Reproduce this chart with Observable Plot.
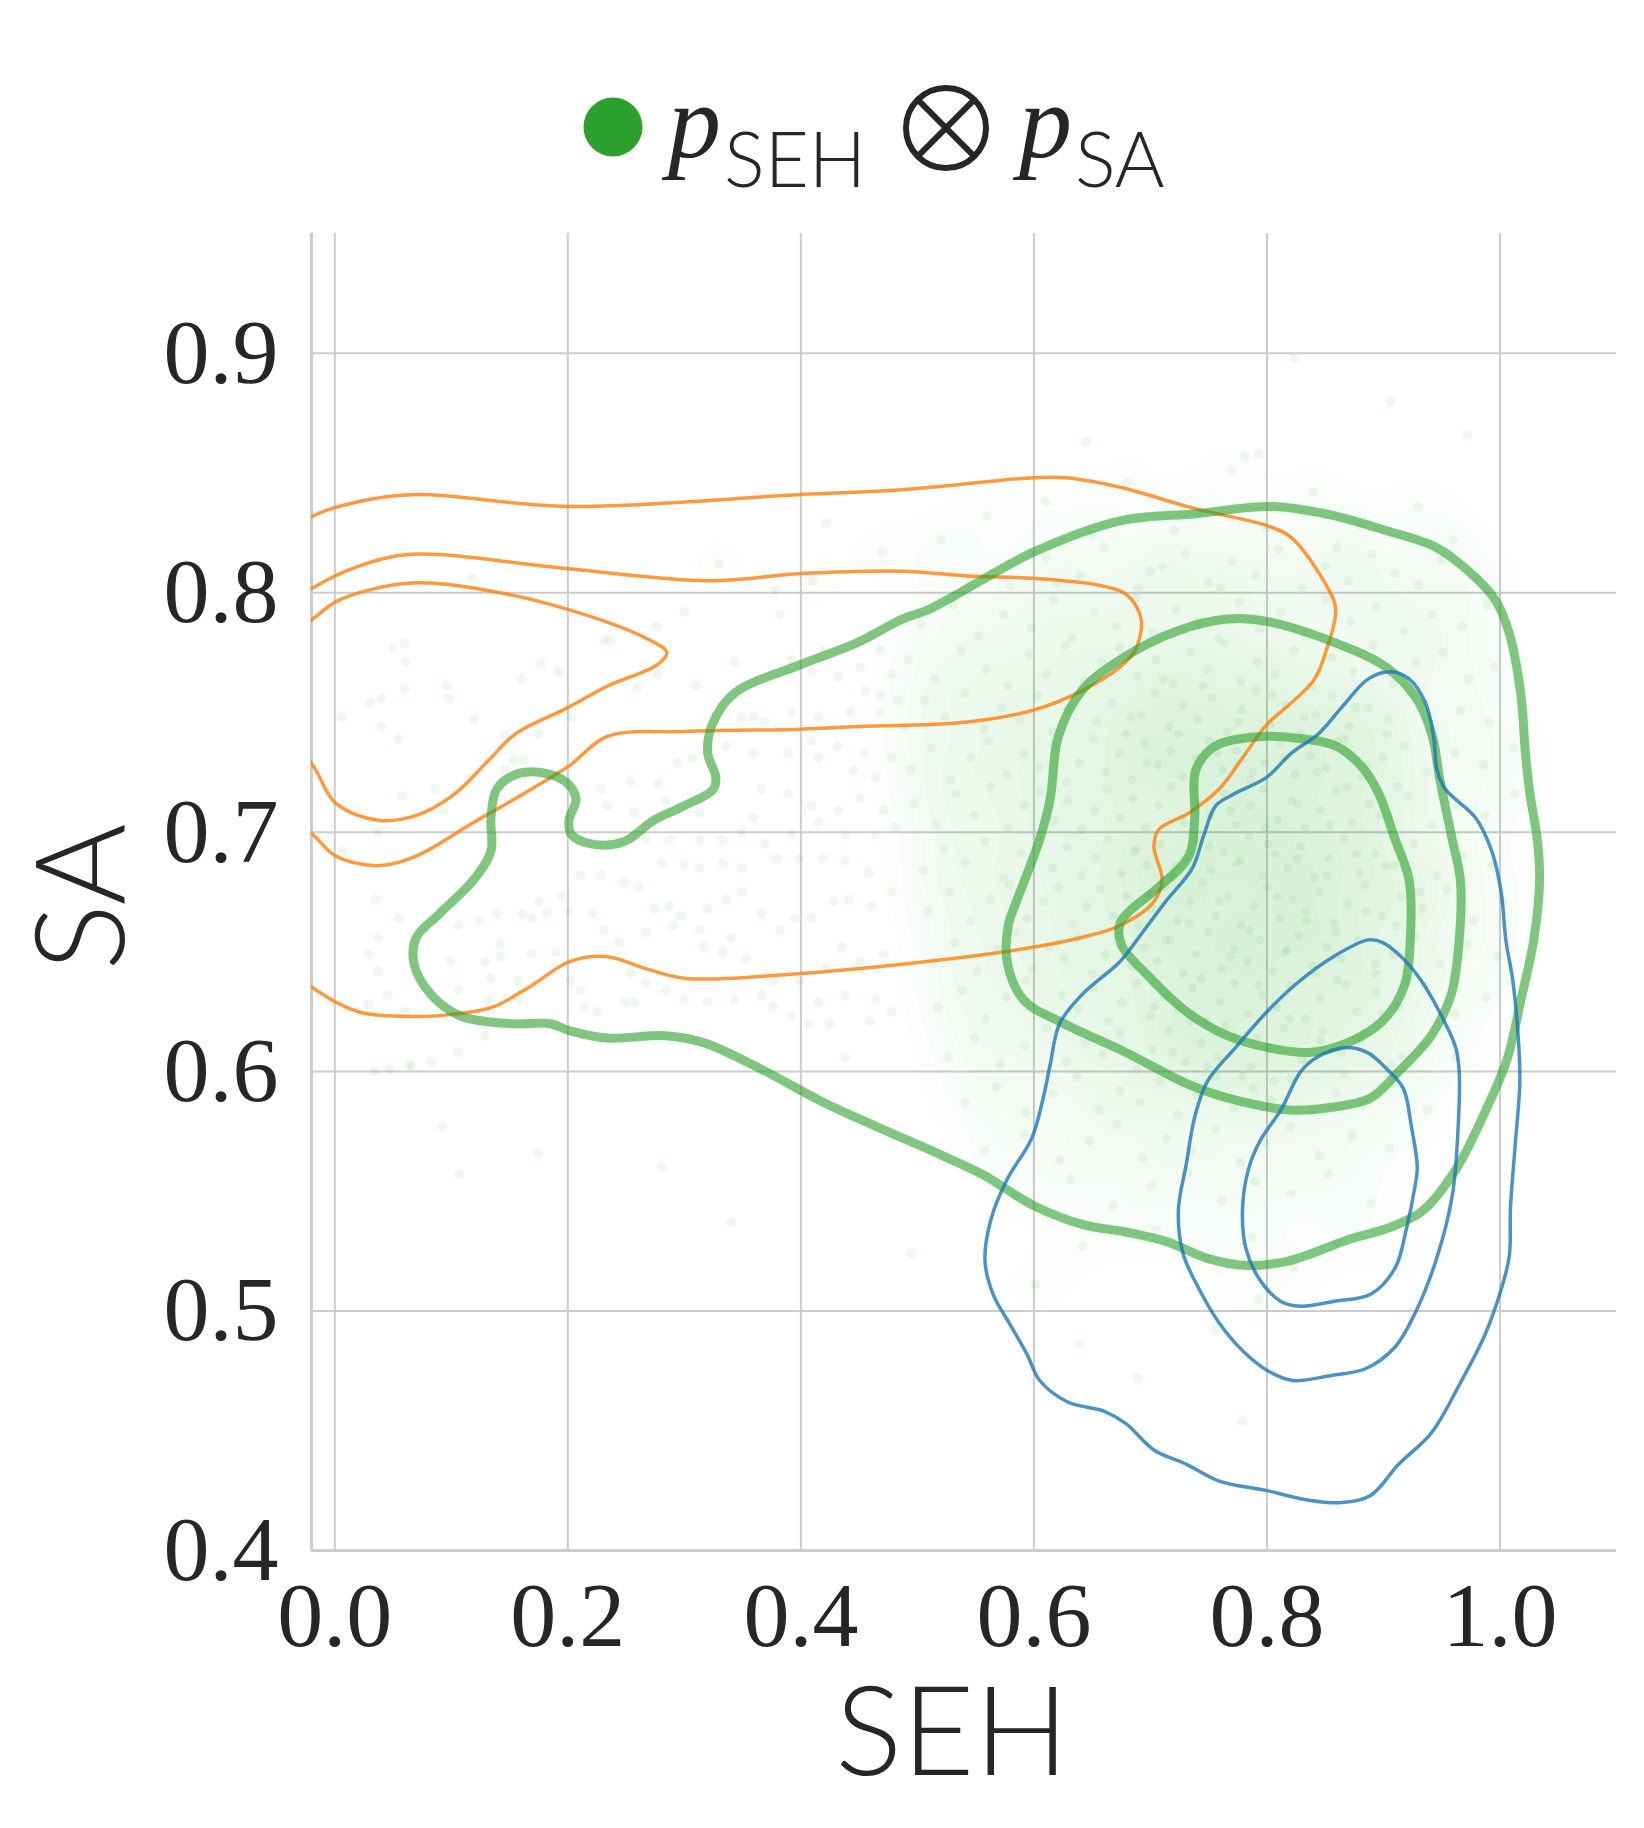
<!DOCTYPE html>
<html>
<head>
<meta charset="utf-8">
<script src="https://cdn.jsdelivr.net/npm/d3@7"></script>
<script src="https://cdn.jsdelivr.net/npm/@observablehq/plot@0.6"></script>
<style>
  html, body { margin: 0; padding: 0; background: #ffffff; }
  #wrap { position: relative; width: 1644px; height: 1828px; }
  #legend { position: absolute; left: 0; top: 0; }
</style>
</head>
<body>
<div id="wrap"></div>
<script>
// ---------- axis ticks ----------
const xTicks = [0.0, 0.2, 0.4, 0.6, 0.8, 1.0];
const yTicks = [0.4, 0.5, 0.6, 0.7, 0.8, 0.9];
const xDomain = [-0.02, 1.10];
const yDomain = [0.40, 0.95];
const xLabel = "SEH";
const yLabel = "SA";
const legendNames = ["SEH", "SA"];

// ---------- scatter samples (SEH, SA) ----------
const samplesSparse = [
  [0.824,0.898],[0.906,0.880],[0.645,0.863],[0.781,0.857],[0.793,0.858],[0.972,0.866],
  [0.422,0.829],[0.118,0.806],[0.378,0.801],[0.382,0.791],[0.300,0.792],[0.276,0.786],
  [0.231,0.780],[0.236,0.780],[0.050,0.777],[0.060,0.779],[0.061,0.771],[0.096,0.761],
  [0.098,0.756],[0.060,0.760],[0.030,0.754],[0.040,0.756],[0.006,0.748],[0.040,0.744],
  [0.055,0.739],[0.119,0.747],[0.160,0.764],[0.177,0.770],[0.192,0.767],[0.343,0.771],
  [0.310,0.761],[0.259,0.760],[0.276,0.766],[0.203,0.748],[0.175,0.741],[0.146,0.741],
  [0.154,0.730],[0.162,0.730],[0.146,0.726],[0.086,0.718],[0.058,0.715],[0.093,0.709],
  [0.037,0.700],[0.007,0.692],[0.035,0.672],[0.055,0.664],[0.037,0.656],[0.029,0.649],
  [0.037,0.642],[0.045,0.632],[0.029,0.628],[0.060,0.625],[0.066,0.602],[0.047,0.601],
  [0.083,0.604],[0.106,0.608],[0.129,0.615],[0.099,0.646],[0.106,0.634],[0.129,0.646],
  [0.142,0.648],[0.134,0.639],[0.157,0.638],[0.158,0.630],[0.132,0.630],[0.142,0.653],
  [0.169,0.649],[0.190,0.650],[0.202,0.638],[0.214,0.627],[0.225,0.625],[0.211,0.634],
  [0.249,0.629],[0.257,0.629],[0.267,0.637],[0.254,0.641],[0.284,0.634],[0.300,0.630],
  [0.320,0.629],[0.343,0.630],[0.366,0.632],[0.376,0.627],[0.392,0.623],[0.407,0.620],
  [0.425,0.620],[0.438,0.606],[0.459,0.621],[0.415,0.629],[0.438,0.632],[0.464,0.630],
  [0.478,0.625],[0.451,0.646],[0.471,0.649],[0.435,0.652],[0.422,0.643],[0.399,0.638],
  [0.376,0.638],[0.353,0.647],[0.333,0.650],[0.317,0.652],[0.340,0.656],[0.313,0.659],
  [0.290,0.661],[0.267,0.658],[0.244,0.654],[0.231,0.659],[0.221,0.666],[0.201,0.667],
  [0.182,0.667],[0.169,0.664],[0.161,0.666],[0.139,0.666],[0.124,0.663],[0.106,0.661],
  [0.175,0.671],[0.195,0.673],[0.211,0.682],[0.228,0.682],[0.248,0.679],[0.261,0.677],
  [0.274,0.668],[0.287,0.669],[0.297,0.665],[0.320,0.668],[0.336,0.672],[0.349,0.675],
  [0.366,0.666],[0.382,0.659],[0.395,0.664],[0.409,0.664],[0.428,0.671],[0.441,0.672],
  [0.461,0.669],[0.478,0.675],[0.458,0.683],[0.438,0.688],[0.419,0.689],[0.399,0.689],
  [0.379,0.689],[0.349,0.685],[0.333,0.687],[0.313,0.685],[0.300,0.687],[0.281,0.687],
  [0.267,0.697],[0.287,0.697],[0.313,0.697],[0.333,0.697],[0.349,0.700],[0.369,0.695],
  [0.392,0.699],[0.415,0.704],[0.438,0.699],[0.464,0.699],[0.481,0.702],[0.471,0.709],
  [0.451,0.714],[0.432,0.709],[0.409,0.711],[0.389,0.716],[0.366,0.718],[0.359,0.706],
  [0.313,0.708],[0.284,0.713],[0.254,0.721],[0.228,0.718],[0.234,0.711],[0.257,0.708],
  [0.277,0.720],[0.294,0.729],[0.307,0.731],[0.336,0.736],[0.359,0.733],[0.389,0.733],
  [0.415,0.731],[0.445,0.726],[0.464,0.723],[0.478,0.731],[0.455,0.733],[0.432,0.736],
  [0.409,0.738],[0.382,0.742],[0.359,0.748],[0.349,0.748],[0.369,0.746],[0.392,0.750],
  [0.415,0.748],[0.442,0.750],[0.468,0.750],[0.484,0.755],[0.455,0.759],[0.432,0.765],
  [0.409,0.767],[0.392,0.772],[0.419,0.776],[0.451,0.769],[0.468,0.776],[0.478,0.766],
  [0.468,0.757],
  [0.639,0.486],[0.779,0.454],[0.495,0.524],[0.340,0.537],[0.281,0.560],[0.174,0.566],
  [0.107,0.557],[0.092,0.577],[0.034,0.600],[0.064,0.603],[0.756,0.492],[0.689,0.472]
];

const samplesCore = [
  [0.520,0.822],[0.610,0.838],[0.680,0.846],[0.720,0.826],[0.770,0.851],[0.840,0.842],
  [0.880,0.828],[0.930,0.836],[0.740,0.834],[0.650,0.824],[0.960,0.822],[0.800,0.827],[0.560,0.832],
  [0.530,0.808],[0.580,0.803],[0.610,0.815],
  [0.640,0.807],[0.660,0.819],[0.690,0.802],[0.710,0.811],[0.730,0.816],[0.750,0.804],
  [0.770,0.813],[0.790,0.807],[0.810,0.818],[0.830,0.802],[0.850,0.811],[0.870,0.805],
  [0.890,0.816],[0.910,0.808],[0.930,0.803],[0.950,0.814],[0.980,0.806],[0.700,0.809],
  [0.620,0.804],[0.760,0.802],[0.860,0.819],
  [0.503,0.787],[0.531,0.795],[0.552,0.782],[0.574,0.791],[0.598,0.785],[0.617,0.797],
  [0.633,0.781],[0.652,0.792],[0.671,0.786],[0.688,0.798],[0.703,0.783],[0.722,0.793],
  [0.741,0.788],[0.758,0.781],[0.776,0.796],[0.794,0.785],[0.812,0.792],[0.833,0.782],
  [0.851,0.797],[0.872,0.788],[0.894,0.794],[0.918,0.784],[0.942,0.791],[0.967,0.786],[0.989,0.795],
  [0.492,0.772],[0.515,0.764],[0.538,0.776],[0.559,0.768],[0.578,0.761],[0.596,0.774],
  [0.611,0.766],[0.627,0.778],[0.643,0.763],[0.658,0.771],[0.674,0.777],[0.689,0.765],
  [0.705,0.772],[0.719,0.762],[0.734,0.775],[0.749,0.768],[0.763,0.779],[0.778,0.763],
  [0.792,0.771],[0.807,0.766],[0.823,0.776],[0.839,0.761],[0.856,0.773],[0.874,0.767],
  [0.891,0.778],[0.909,0.762],[0.928,0.771],[0.951,0.775],[0.973,0.764],[0.996,0.769],
  [0.489,0.744],[0.506,0.755],[0.524,0.748],[0.541,0.758],[0.557,0.743],[0.572,0.752],
  [0.588,0.747],[0.603,0.757],[0.616,0.742],[0.629,0.751],[0.641,0.759],[0.654,0.746],
  [0.667,0.754],[0.679,0.741],[0.692,0.749],[0.704,0.758],[0.716,0.744],[0.728,0.753],
  [0.741,0.747],[0.753,0.756],[0.766,0.742],[0.778,0.751],[0.791,0.759],[0.803,0.745],
  [0.816,0.753],[0.829,0.741],[0.842,0.749],[0.856,0.757],[0.871,0.744],[0.887,0.752],
  [0.904,0.747],[0.922,0.758],[0.943,0.743],[0.966,0.751],[0.991,0.746],
  [0.494,0.726],[0.512,0.735],[0.529,0.722],[0.546,0.731],[0.561,0.738],[0.577,0.724],
  [0.591,0.733],[0.604,0.727],[0.617,0.736],[0.628,0.721],[0.639,0.729],[0.651,0.739],
  [0.662,0.725],[0.673,0.733],[0.684,0.722],[0.695,0.737],[0.706,0.728],[0.717,0.734],
  [0.728,0.723],[0.739,0.731],[0.751,0.738],[0.762,0.726],[0.774,0.734],[0.786,0.722],
  [0.798,0.729],[0.811,0.737],[0.824,0.724],[0.837,0.732],[0.851,0.727],[0.866,0.739],
  [0.882,0.723],[0.899,0.731],[0.918,0.736],[0.938,0.725],[0.961,0.733],[0.986,0.728],[1.012,0.735],
  [0.497,0.712],[0.516,0.703],[0.533,0.716],[0.549,0.707],[0.563,0.719],[0.578,0.702],
  [0.592,0.711],[0.605,0.717],[0.617,0.705],[0.629,0.713],[0.641,0.701],[0.652,0.709],
  [0.663,0.718],[0.674,0.706],[0.685,0.714],[0.696,0.702],[0.707,0.711],[0.718,0.719],
  [0.729,0.704],[0.741,0.712],[0.752,0.707],[0.763,0.716],[0.774,0.703],[0.786,0.711],
  [0.797,0.718],[0.809,0.705],[0.821,0.713],[0.833,0.702],[0.846,0.709],[0.859,0.717],
  [0.873,0.704],[0.888,0.712],[0.904,0.706],[0.921,0.715],[0.941,0.703],[0.963,0.711],
  [0.987,0.707],[1.013,0.716],
  [0.505,0.684],[0.523,0.693],[0.541,0.687],[0.558,0.696],[0.574,0.681],[0.589,0.691],
  [0.603,0.698],[0.616,0.685],[0.628,0.694],[0.641,0.682],[0.653,0.689],[0.664,0.697],
  [0.675,0.683],[0.686,0.692],[0.697,0.686],[0.708,0.695],[0.719,0.681],[0.730,0.689],
  [0.741,0.697],[0.752,0.684],[0.763,0.692],[0.774,0.687],[0.785,0.698],[0.796,0.682],
  [0.807,0.691],[0.818,0.685],[0.829,0.694],[0.841,0.681],[0.853,0.689],[0.866,0.697],
  [0.879,0.683],[0.893,0.691],[0.909,0.686],[0.926,0.695],[0.946,0.682],[0.968,0.690],[0.994,0.686],
  [0.509,0.667],[0.528,0.675],[0.546,0.663],[0.563,0.672],[0.579,0.678],[0.594,0.664],
  [0.608,0.671],[0.621,0.677],[0.633,0.662],[0.645,0.669],[0.657,0.676],[0.668,0.665],
  [0.679,0.673],[0.690,0.661],[0.701,0.668],[0.712,0.677],[0.723,0.663],[0.734,0.671],
  [0.745,0.679],[0.756,0.665],[0.767,0.673],[0.778,0.661],[0.789,0.669],[0.800,0.677],
  [0.811,0.664],[0.822,0.672],[0.833,0.667],[0.845,0.675],[0.857,0.662],[0.870,0.670],
  [0.884,0.678],[0.899,0.665],[0.915,0.673],[0.933,0.668],[0.954,0.676],[0.977,0.663],[1.003,0.671],
  [0.513,0.645],[0.532,0.654],[0.551,0.642],[0.568,0.651],[0.584,0.658],[0.599,0.643],
  [0.613,0.652],[0.626,0.647],[0.638,0.656],[0.650,0.641],[0.662,0.649],[0.673,0.657],
  [0.684,0.644],[0.695,0.652],[0.706,0.646],[0.717,0.655],[0.728,0.641],[0.739,0.649],
  [0.750,0.658],[0.761,0.643],[0.772,0.651],[0.783,0.646],[0.794,0.655],[0.805,0.642],
  [0.816,0.650],[0.827,0.657],[0.839,0.644],[0.851,0.652],[0.864,0.647],[0.878,0.655],
  [0.893,0.641],[0.909,0.649],[0.927,0.656],[0.948,0.645],[0.972,0.653],[0.998,0.648],
  [0.518,0.627],[0.539,0.634],[0.558,0.622],[0.576,0.631],[0.593,0.638],[0.609,0.624],
  [0.624,0.632],[0.638,0.626],[0.651,0.635],[0.664,0.621],[0.676,0.629],[0.688,0.637],
  [0.700,0.623],[0.712,0.631],[0.724,0.626],[0.736,0.635],[0.748,0.621],[0.760,0.629],
  [0.772,0.637],[0.784,0.624],[0.796,0.632],[0.808,0.627],[0.820,0.636],[0.833,0.622],
  [0.846,0.630],[0.861,0.638],[0.877,0.625],[0.894,0.633],[0.913,0.627],[0.935,0.636],
  [0.961,0.624],[0.988,0.631],
  [0.526,0.606],[0.549,0.614],[0.571,0.603],[0.592,0.611],[0.611,0.618],[0.628,0.604],
  [0.644,0.612],[0.659,0.607],[0.674,0.616],[0.688,0.601],[0.702,0.609],[0.716,0.617],
  [0.730,0.604],[0.744,0.612],[0.758,0.606],[0.772,0.615],[0.786,0.602],[0.800,0.610],
  [0.815,0.618],[0.830,0.605],[0.846,0.613],[0.864,0.608],[0.884,0.616],[0.907,0.603],
  [0.933,0.611],[0.962,0.606],
  [0.541,0.587],[0.568,0.594],[0.593,0.583],[0.616,0.591],[0.637,0.598],[0.656,0.584],
  [0.674,0.592],[0.691,0.587],[0.708,0.596],[0.724,0.582],[0.740,0.590],[0.756,0.598],
  [0.772,0.585],[0.788,0.593],[0.804,0.588],[0.821,0.597],[0.839,0.583],[0.859,0.591],
  [0.882,0.586],[0.908,0.595],[0.938,0.584],
  [0.558,0.567],[0.592,0.574],[0.622,0.563],[0.648,0.571],[0.671,0.578],[0.693,0.564],
  [0.714,0.572],[0.735,0.567],[0.756,0.576],[0.777,0.562],[0.798,0.570],[0.820,0.577],
  [0.845,0.565],[0.873,0.573],[0.905,0.568],
  [0.584,0.548],[0.631,0.555],[0.668,0.544],[0.701,0.552],[0.732,0.558],[0.761,0.546],
  [0.790,0.554],[0.821,0.549],[0.853,0.557],[0.889,0.545],
  [0.642,0.527],[0.705,0.534],[0.748,0.522],[0.787,0.531],[0.823,0.518],[0.861,0.529],
  [0.917,0.524],[0.601,0.511],[0.793,0.505]
];

const samplesPeak = [
  [0.683,0.748],[0.697,0.729],[0.711,0.764],[0.724,0.741],[0.737,0.718],[0.745,0.761],
  [0.758,0.733],[0.769,0.709],[0.776,0.746],[0.788,0.725],[0.799,0.702],[0.804,0.757],
  [0.815,0.731],[0.826,0.712],[0.832,0.748],[0.843,0.725],[0.854,0.703],[0.861,0.738],
  [0.869,0.719],[0.876,0.752],[0.886,0.728],[0.897,0.707],[0.903,0.741],[0.912,0.719],
  [0.688,0.693],[0.699,0.674],[0.713,0.655],[0.722,0.686],[0.733,0.662],[0.744,0.639],
  [0.751,0.694],[0.759,0.671],[0.768,0.648],[0.777,0.688],[0.785,0.659],[0.793,0.636],
  [0.801,0.695],[0.809,0.673],[0.817,0.651],[0.826,0.689],[0.834,0.663],[0.842,0.641],
  [0.851,0.682],[0.859,0.658],[0.868,0.636],[0.877,0.691],[0.885,0.667],[0.893,0.645],
  [0.902,0.686],[0.911,0.661],[0.921,0.639],[0.931,0.675],
  [0.703,0.627],[0.719,0.608],[0.734,0.621],[0.749,0.602],[0.764,0.619],[0.779,0.598],
  [0.791,0.614],[0.806,0.596],[0.819,0.622],[0.834,0.604],[0.848,0.617],[0.866,0.599],
  [0.881,0.613],[0.899,0.624],[0.916,0.606],
  [0.330,0.812],[0.410,0.805],[0.470,0.817]
];

// ---------- density contours of p_SEH (green) ----------
const sehOuter = [
  [0.068,0.645],[0.070,0.656],[0.090,0.666],[0.119,0.680],[0.134,0.692],[0.134,0.706],
  [0.139,0.718],[0.155,0.724],[0.175,0.725],[0.198,0.721],[0.207,0.714],[0.201,0.705],
  [0.203,0.699],[0.221,0.695],[0.248,0.696],[0.274,0.705],[0.300,0.711],[0.325,0.718],
  [0.327,0.723],[0.320,0.733],[0.324,0.745],[0.343,0.758],[0.400,0.770],[0.448,0.779],
  [0.487,0.789],[0.510,0.793],[0.600,0.817],[0.674,0.830],[0.739,0.833],[0.805,0.836],
  [0.859,0.832],[0.902,0.826],[0.945,0.819],[0.973,0.809],[0.996,0.797],[1.008,0.783],
  [1.018,0.757],[1.022,0.732],[1.026,0.715],[1.032,0.697],[1.034,0.680],[1.029,0.655],
  [1.018,0.630],[1.006,0.605],[0.987,0.583],[0.962,0.559],[0.934,0.542],[0.906,0.535],
  [0.871,0.530],[0.819,0.521],[0.784,0.519],[0.749,0.522],[0.714,0.529],[0.679,0.533],
  [0.643,0.536],[0.600,0.544],[0.556,0.557],[0.521,0.565],[0.465,0.577],[0.420,0.587],
  [0.366,0.601],[0.317,0.612],[0.284,0.615],[0.234,0.614],[0.202,0.617],[0.185,0.620],
  [0.152,0.620],[0.109,0.623],[0.083,0.632]
];
const sehMiddle = [
  [0.766,0.789],[0.800,0.788],[0.859,0.779],[0.902,0.769],[0.928,0.756],[0.942,0.740],
  [0.948,0.723],[0.959,0.697],[0.966,0.680],[0.965,0.655],[0.958,0.632],[0.941,0.615],
  [0.913,0.600],[0.889,0.589],[0.854,0.585],[0.819,0.584],[0.766,0.589],[0.731,0.595],
  [0.679,0.608],[0.626,0.620],[0.591,0.630],[0.577,0.646],[0.578,0.661],[0.585,0.671],
  [0.605,0.697],[0.614,0.714],[0.621,0.740],[0.641,0.759],[0.674,0.772],[0.723,0.784]
];
const sehInner = [
  [0.756,0.736],[0.800,0.740],[0.830,0.739],[0.859,0.736],[0.882,0.727],[0.896,0.716],
  [0.910,0.697],[0.922,0.680],[0.923,0.655],[0.918,0.636],[0.899,0.621],[0.869,0.612],
  [0.836,0.608],[0.801,0.610],[0.766,0.615],[0.731,0.625],[0.696,0.641],[0.675,0.653],
  [0.674,0.662],[0.682,0.667],[0.707,0.677],[0.733,0.690],[0.738,0.706],[0.739,0.726]
];

// ---------- density contours of the other model (orange), cut at the left edge ----------
const orangeOuter = [
  [-0.07,0.815],[-0.019,0.832],[0.020,0.838],[0.070,0.841],[0.200,0.836],[0.400,0.841],
  [0.487,0.843],[0.600,0.848],[0.628,0.848],[0.674,0.844],[0.739,0.835],[0.800,0.828],
  [0.821,0.823],[0.851,0.803],[0.859,0.793],[0.851,0.776],[0.841,0.764],[0.821,0.754],
  [0.800,0.745],[0.779,0.731],[0.759,0.718],[0.733,0.708],[0.707,0.701],[0.703,0.694],
  [0.710,0.680],[0.703,0.671],[0.674,0.661],[0.641,0.656],[0.600,0.652],[0.543,0.648],
  [0.400,0.641],[0.300,0.639],[0.267,0.643],[0.234,0.648],[0.202,0.646],[0.169,0.636],
  [0.136,0.627],[0.103,0.624],[0.070,0.623],[0.020,0.625],[-0.019,0.635],[-0.07,0.655]
];
const orangeMiddle = [
  [-0.07,0.785],[-0.019,0.802],[0.020,0.811],[0.066,0.816],[0.200,0.810],[0.320,0.805],
  [0.400,0.808],[0.487,0.809],[0.543,0.807],[0.600,0.806],[0.657,0.803],[0.680,0.799],
  [0.692,0.789],[0.687,0.776],[0.674,0.769],[0.641,0.759],[0.600,0.751],[0.543,0.746],
  [0.444,0.744],[0.400,0.743],[0.300,0.742],[0.234,0.740],[0.202,0.728],[0.169,0.718],
  [0.119,0.704],[0.070,0.690],[0.037,0.686],[0.001,0.690],[-0.019,0.699],[-0.07,0.720]
];
const orangeInner = [
  [-0.07,0.770],[-0.019,0.789],[0.004,0.797],[0.066,0.804],[0.136,0.8005],[0.200,0.793],
  [0.267,0.781],[0.285,0.775],[0.277,0.770],[0.234,0.761],[0.200,0.752],[0.155,0.741],
  [0.132,0.730],[0.103,0.716],[0.070,0.707],[0.037,0.705],[0.001,0.712],[-0.019,0.728],
  [-0.07,0.760]
];

// ---------- density contours of p_SA (blue) ----------
const saOuter = [
  [0.906,0.767],[0.922,0.764],[0.936,0.754],[0.943,0.740],[0.946,0.726],[0.953,0.718],
  [0.979,0.706],[0.993,0.692],[1.001,0.675],[1.005,0.655],[1.011,0.638],[1.016,0.612],
  [1.017,0.595],[1.013,0.569],[1.009,0.543],[1.008,0.523],[1.001,0.509],[0.987,0.490],
  [0.966,0.470],[0.941,0.449],[0.913,0.436],[0.889,0.423],[0.864,0.420],[0.836,0.421],
  [0.800,0.425],[0.759,0.429],[0.731,0.436],[0.703,0.442],[0.679,0.453],[0.661,0.458],
  [0.629,0.462],[0.605,0.471],[0.594,0.482],[0.580,0.494],[0.565,0.507],[0.558,0.521],
  [0.563,0.538],[0.577,0.555],[0.598,0.572],[0.608,0.589],[0.614,0.603],[0.622,0.620],
  [0.641,0.632],[0.674,0.646],[0.690,0.656],[0.713,0.671],[0.736,0.685],[0.746,0.699],
  [0.756,0.711],[0.772,0.716],[0.800,0.723],[0.821,0.733],[0.844,0.741],[0.864,0.752],
  [0.887,0.764]
];
const saMiddle = [
  [0.887,0.655],[0.857,0.648],[0.826,0.637],[0.800,0.625],[0.773,0.610],[0.749,0.596],
  [0.738,0.581],[0.731,0.562],[0.724,0.542],[0.728,0.524],[0.742,0.509],[0.759,0.495],
  [0.780,0.483],[0.801,0.475],[0.822,0.471],[0.854,0.473],[0.885,0.476],[0.910,0.485],
  [0.927,0.499],[0.945,0.521],[0.959,0.548],[0.964,0.576],[0.965,0.600],[0.962,0.610],
  [0.948,0.625],[0.931,0.639],[0.913,0.649],[0.899,0.654]
];
const saInner = [
  [0.866,0.610],[0.843,0.606],[0.829,0.600],[0.812,0.584],[0.794,0.571],[0.784,0.559],
  [0.779,0.542],[0.782,0.526],[0.794,0.513],[0.812,0.504],[0.829,0.502],[0.857,0.504],
  [0.889,0.507],[0.910,0.518],[0.920,0.535],[0.927,0.552],[0.929,0.560],[0.924,0.577],
  [0.917,0.593],[0.903,0.601],[0.886,0.608]
];

// ---------- build tables ----------
const toXY = ([x, y]) => ({x, y});
const samples = [...samplesSparse, ...samplesCore, ...samplesPeak].map(toXY);
const coreSamples = [...samplesCore, ...samplesPeak].map(toXY);
const toRows = (id, pts) => pts.map(([x, y]) => ({id, x, y}));
const greenRows = [...toRows("o", sehOuter), ...toRows("m", sehMiddle), ...toRows("i", sehInner)];
const orangeRows = [...toRows("o", orangeOuter), ...toRows("m", orangeMiddle), ...toRows("i", orangeInner)];
const blueRows = [...toRows("o", saOuter), ...toRows("m", saMiddle), ...toRows("i", saInner)];

const GREEN = "#2ca02c", ORANGE = "#ff7f0e", BLUE = "#1f77b4", GRID = "#cccccc", INK = "#262626";
const SANS = "Lato, 'Open Sans', sans-serif";
const SERIF = "'Liberation Serif', 'Times New Roman', serif";

const chart = Plot.plot({
  width: 1644,
  height: 1828,
  marginLeft: 311,
  marginRight: 28,
  marginTop: 233,
  marginBottom: 278,
  x: {domain: xDomain},
  y: {domain: yDomain},
  style: {fontFamily: SERIF, fontSize: "92px", color: INK, background: "#ffffff", overflow: "visible"},
  marks: [
    Plot.gridX(xTicks, {stroke: GRID, strokeOpacity: 1, strokeWidth: 2}),
    Plot.gridY(yTicks, {stroke: GRID, strokeOpacity: 1, strokeWidth: 2}),
    Plot.ruleX([xDomain[0]], {stroke: GRID, strokeWidth: 3}),
    Plot.ruleY([yDomain[0]], {stroke: GRID, strokeWidth: 3}),
    // haze of the many overlapping translucent samples in the dense core
    Plot.density(coreSamples, {x: "x", y: "y", bandwidth: 24, thresholds: 14, fill: GREEN, fillOpacity: 0.017, stroke: "none", clip: true}),
    Plot.dot(samples, {x: "x", y: "y", r: 5, fill: GREEN, fillOpacity: 0.075, stroke: "#ffffff", strokeOpacity: 0.5, strokeWidth: 0.5, clip: true}),
    Plot.line(orangeRows, {x: "x", y: "y", z: "id", curve: "catmull-rom", stroke: ORANGE, strokeOpacity: 0.8, strokeWidth: 3.5, clip: true}),
    Plot.line(greenRows, {x: "x", y: "y", z: "id", curve: "catmull-rom-closed", stroke: GREEN, strokeOpacity: 0.6, strokeWidth: 9, clip: true}),
    Plot.line(blueRows, {x: "x", y: "y", z: "id", curve: "catmull-rom-closed", stroke: BLUE, strokeOpacity: 0.8, strokeWidth: 3.5, clip: true}),
    Plot.axisX(xTicks, {tickSize: 0, tickPadding: 30, tickFormat: d3.format(".1f"), label: null, fontSize: 92}),
    Plot.axisY(yTicks, {tickSize: 0, tickPadding: 33, tickFormat: d3.format(".1f"), label: null, fontSize: 92}),
    Plot.text([xLabel], {frameAnchor: "bottom", lineAnchor: "middle", textAnchor: "middle", dx: -12, dy: 184, fontSize: 125, fontFamily: SANS, fontWeight: 300, fill: INK}),
    Plot.text([yLabel], {frameAnchor: "left", lineAnchor: "middle", textAnchor: "middle", dx: -228, dy: 5, rotate: -90, fontSize: 125, fontFamily: SANS, fontWeight: 300, fill: INK})
  ]
});

const wrap = document.getElementById("wrap");
wrap.appendChild(chart);

// ---------- legend (above the plot area) ----------
const ns = "http://www.w3.org/2000/svg";
const leg = document.createElementNS(ns, "svg");
leg.setAttribute("id", "legend");
leg.setAttribute("width", 1644);
leg.setAttribute("height", 233);
function el(tag, attrs, text) {
  const e = document.createElementNS(ns, tag);
  for (const k in attrs) e.setAttribute(k, attrs[k]);
  if (text != null) e.textContent = text;
  leg.appendChild(e);
  return e;
}
// entry 1: filled green dot
el("circle", {cx: 613, cy: 127, r: 29.5, fill: GREEN});
el("text", {x: 668, y: 157, "font-family": SERIF, "font-style": "italic", "font-size": 106, fill: INK}, "p");
el("text", {x: 724, y: 187, "font-family": SANS, "font-weight": 300, "font-size": 76, fill: INK}, legendNames[0]);
// entry 2: circled cross
const cx2 = 946, cy2 = 128, r2 = 40;
el("circle", {cx: cx2, cy: cy2, r: r2, fill: "none", stroke: INK, "stroke-width": 6});
const d = r2 * Math.SQRT1_2;
el("line", {x1: cx2 - d, y1: cy2 - d, x2: cx2 + d, y2: cy2 + d, stroke: INK, "stroke-width": 6});
el("line", {x1: cx2 - d, y1: cy2 + d, x2: cx2 + d, y2: cy2 - d, stroke: INK, "stroke-width": 6});
el("text", {x: 1019, y: 157, "font-family": SERIF, "font-style": "italic", "font-size": 106, fill: INK}, "p");
el("text", {x: 1075, y: 187, "font-family": SANS, "font-weight": 300, "font-size": 76, fill: INK}, legendNames[1]);
wrap.appendChild(leg);
</script>
</body>
</html>
